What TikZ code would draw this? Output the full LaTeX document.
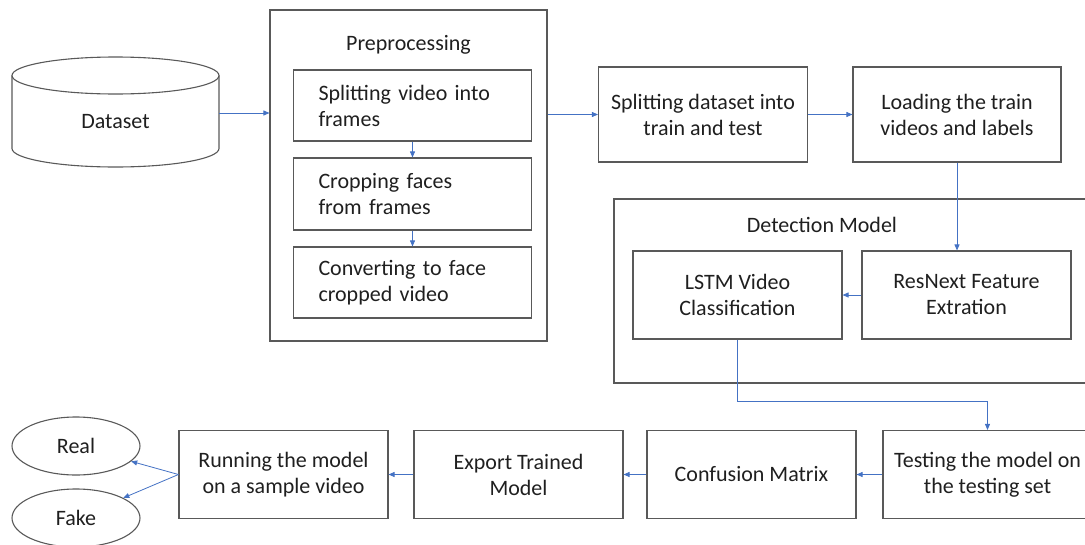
\documentclass[tikz,border=0pt]{standalone}
\usepackage{fontspec}
\setmainfont{Carlito}
\usetikzlibrary{arrows.meta, shapes.geometric}
\definecolor{flowblue}{HTML}{4472C4}
\definecolor{edgegrey}{HTML}{595959}
\definecolor{txtgrey}{HTML}{1F1F1F}

\begin{document}
\begin{tikzpicture}[
  x=1pt, y=-1pt,
  font=\fontsize{22}{26}\selectfont, text=txtgrey,
  outline/.style  = {draw=edgegrey, line width=1.1pt},
  group_box/.style = {rectangle, outline},
  sub_box/.style  = {rectangle, outline, minimum width=238pt, minimum height=71pt, text width=188pt, align=left},
  stage/.style    = {rectangle, outline, minimum width=209pt, minimum height=88pt, align=center},
  outcome/.style  = {ellipse, outline, minimum width=128pt, minimum height=58pt},
  flow/.style     = {draw=flowblue, line width=0.8pt, -{Triangle[length=6pt, width=5pt]}},
  ]
  \useasboundingbox (0,0) rectangle (1085,544);

  % Dataset cylinder
  \draw[outline] (12,75.5) -- (12,148.5) arc[start angle=180, end angle=360, x radius=103.5pt, y radius=18.5pt] -- (219,75.5);
  \draw[outline] (115.5,75.5) ellipse [x radius=103.5pt, y radius=18.5pt];
  \node (data)      at (115.5,122)   [minimum width=207pt]		{Dataset};

  % Preprocessing stage
  \node (pre)       at (408.5,175.5) [group_box, minimum width=277pt, minimum height=331pt] {};
  \node (pre_title) at (408.5,45)						{Preprocessing};
  \node (frames)    at (412.5,105.5) [sub_box]				{Splitting video into\\frames};
  \node (faces)     at (412.5,194)   [sub_box, minimum height=72pt]	{Cropping faces\\from frames};
  \node (cropped)   at (412.5,282.5) [sub_box]				{Converting to face\\cropped video};

  % Split and load
  \node (split)     at (703,114.5)   [stage, minimum height=95pt]	{Splitting dataset into\\train and test};
  \node (load)      at (957,114.5)   [stage, minimum width=208pt, minimum height=95pt] {Loading the train\\videos and labels};

  % Detection model
  \node (det)       at (857,291)     [group_box, minimum width=486pt, minimum height=184pt] {};
  \node (det_title) at (822,225)						{Detection Model};
  \node (lstm)      at (737.5,295)   [stage]				{LSTM Video\\Classification};
  \node (resnext)   at (966.5,295)   [stage]				{ResNext Feature\\Extration};

  % Testing and use of the model
  \node (test)      at (987.5,474.5) [stage]				{Testing the model on\\the testing set};
  \node (conf)      at (751.5,474.5) [stage]				{Confusion Matrix};
  \node (export)    at (518.5,474.5) [stage]				{Export Trained\\Model};
  \node (run)       at (283.5,474.5) [stage]				{Running the model\\on a sample video};
  \node (real)      at (76,446)      [outcome]				{Real};
  \node (fake)      at (76,518)      [outcome]				{Fake};
  \coordinate (turn) at (737.5,401);

  % Connections along the top row
  \draw
  ([yshift=9pt]data.east)   edge [flow] ([yshift=9pt]data.east -| pre.west)
  (frames)                  edge [flow] (faces)
  (faces)                   edge [flow] (cropped)
  (pre.east |- split.west)  edge [flow] (split.west)
  (split)                   edge [flow] (load)
  (load.south)              edge [flow] (load.south |- resnext.north)
  (resnext)                 edge [flow] (lstm);

  % Connections along the bottom row
  \draw[flow] (lstm.south) -- (turn) -| (test.north);
  \draw
  (test)                    edge [flow] (conf)
  (conf)                    edge [flow] (export)
  (export)                  edge [flow] (run)
  (run.west)                edge [flow] (real)
  (run.west)                edge [flow] (fake);
\end{tikzpicture}
\end{document}
